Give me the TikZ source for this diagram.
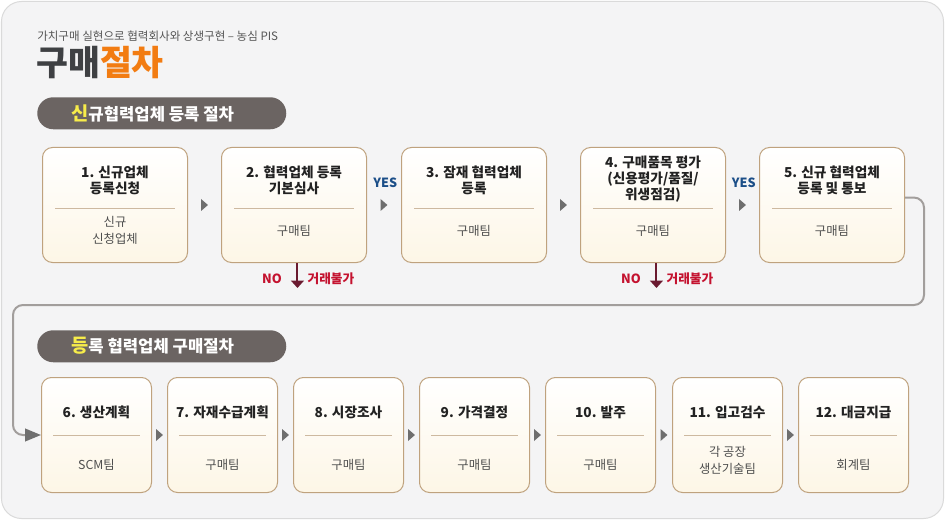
\documentclass[tikz,border=0pt]{standalone}
\usepackage{fontspec}
\setmainfont{Noto Sans CJK KR}
\usetikzlibrary{arrows.meta,calc}
\definecolor{bgfill}{HTML}{F4F4F5}
\definecolor{bgline}{HTML}{DADADA}
\definecolor{boxline}{HTML}{BFA27E}
\definecolor{boxbot}{HTML}{FDF6E6}
\definecolor{sepline}{HTML}{CDB9A0}
\definecolor{titlecol}{HTML}{222222}
\definecolor{subcol}{HTML}{4E4E4E}
\definecolor{hdrgray}{HTML}{555555}
\definecolor{ttldark}{HTML}{3E4043}
\definecolor{ttlorange}{HTML}{F27C12}
\definecolor{pillfill}{HTML}{6B6462}
\definecolor{pillyellow}{HTML}{F7EC4A}
\definecolor{trigray}{HTML}{6E6E6E}
\definecolor{yesblue}{HTML}{1B4E88}
\definecolor{nored}{HTML}{C4122F}
\definecolor{noarrow}{HTML}{6A1A30}
\definecolor{connline}{HTML}{A29E9C}
\definecolor{conntip}{HTML}{6F6F6F}
\begin{document}
\begin{tikzpicture}[x=0.75pt,y=-0.75pt,
  boxA/.style={draw=boxline, line width=0.75pt, rounded corners=7.5pt,
    top color=white, bottom color=boxbot, minimum width=108.75pt,
    minimum height=86.25pt, anchor=north west, inner sep=0pt},
  boxB/.style={boxA, minimum width=82.5pt},
  sepl/.style={draw=sepline, line width=0.75pt},
  ttl/.style={font=\bfseries\fontsize{10.25}{12}\selectfont, align=center, text=titlecol, inner sep=0pt},
  subt/.style={font=\fontsize{9.25}{12.75}\selectfont, align=center, text=subcol, inner sep=0pt},
  pill/.style={fill=pillfill, rounded corners=12pt, minimum width=186.75pt,
    minimum height=24pt, anchor=north west, inner sep=0pt},
  pilltext/.style={anchor=west, inner sep=0pt, text=white, font=\bfseries\fontsize{12.5}{14}\selectfont},
  yes/.style={font=\bfseries\fontsize{9.5}{11}\selectfont, text=yesblue, inner sep=0pt},
  nolbl/.style={font=\bfseries\fontsize{9.5}{11}\selectfont, text=nored, inner sep=0pt},
  noarr/.style={draw=noarrow, line width=1.5pt, -{Triangle[length=5.5pt,width=9.5pt]}},
  conn/.style={draw=connline, line width=1.5pt, rounded corners=7.5pt,
    -{Triangle[length=12pt,width=9.5pt,color=conntip]}},
  trif/.style={fill=trigray}
]
\useasboundingbox (0,0) rectangle (945,520);
\draw[fill=bgfill, draw=bgline, line width=0.75pt, rounded corners=15pt] (1.5,1.5) rectangle (943.5,518.5);

% header
\node[anchor=west, inner sep=0pt, font=\fontsize{8.65}{10}\selectfont, text=hdrgray] (hdr) at (37,36) {가치구매 실현으로 협력회사와 상생구현 – 농심 PIS};
\node[anchor=west, inner sep=0pt, font=\bfseries\fontsize{26}{28}\selectfont] (maintitle) at (36,63) {\textcolor{ttldark}{구매}\textcolor{ttlorange}{절차}};

% pill 1
\node[pill] (p1) at (37,97) {};
\node[pilltext] (p1t) at (71,113) {\textcolor{pillyellow}{\fontsize{14}{14}\selectfont 신}규협력업체 등록 절차};

% row 1 boxes
\node[boxA] (b1) at (42,147) {};
\node[boxA] (b2) at (221,147) {};
\node[boxA] (b3) at (401,147) {};
\node[boxA] (b4) at (580,147) {};
\node[boxA] (b5) at (759,147) {};
\foreach \b in {b1,b2,b3,b4,b5}{
  \draw[sepl] ([xshift=9.75pt]\b.west |- 0,209) -- ([xshift=-9.75pt]\b.east |- 0,209);
}
\node[ttl] (t1) at (b1.north |- 0,180) {1. 신규업체\\등록신청};
\node[ttl] (t2) at (b2.north |- 0,180) {2. 협력업체 등록\\기본심사};
\node[ttl] (t3) at (b3.north |- 0,180) {3. 잠재 협력업체\\등록};
\node[ttl] (t4) at (b4.north |- 0,179) {4. 구매품목 평가\\(신용평가/품질/\\위생점검)};
\node[ttl] (t5) at (b5.north |- 0,180) {5. 신규 협력업체\\등록 및 통보};
\node[subt] (s1) at (b1.north |- 0,230.5) {신규\\신청업체};
\node[subt] (s2) at (b2.north |- 0,231) {구매팀};
\node[subt] (s3) at (b3.north |- 0,231) {구매팀};
\node[subt] (s4) at (b4.north |- 0,231) {구매팀};
\node[subt] (s5) at (b5.north |- 0,231) {구매팀};

% row 1 triangles
\foreach \a/\b in {b1/b2,b2/b3,b3/b4,b4/b5}{
  \coordinate (m) at ($(\a.east)!0.5!(\b.west)$);
  \fill[trif] ([xshift=-2.6pt,yshift=4.5pt]m) -- ([xshift=2.6pt]m) -- ([xshift=-2.6pt,yshift=-4.5pt]m) -- cycle;
}
\coordinate (m23) at ($(b2.east)!0.5!(b3.west)$);
\coordinate (m45) at ($(b4.east)!0.5!(b5.west)$);
\node[yes] (y23) at ([xshift=1pt]m23 |- 0,183) {YES};
\node[yes] (y45) at ([xshift=1pt]m45 |- 0,183) {YES};

% NO arrows
\draw[noarr] ([xshift=2.6pt]b2.south) -- ++(0,25) coordinate (n2);
\node[nolbl, anchor=east] (no2) at ([xshift=-9pt]b2.south |- 0,279) {NO};
\node[nolbl, anchor=west] (nx2) at ([xshift=10pt]b2.south |- 0,279) {거래불가};
\draw[noarr] ([xshift=2.6pt]b4.south) -- ++(0,25) coordinate (n4);
\node[nolbl, anchor=east] (no4) at ([xshift=-9pt]b4.south |- 0,279) {NO};
\node[nolbl, anchor=west] (nx4) at ([xshift=10pt]b4.south |- 0,279) {거래불가};

% pill 2
\node[pill] (p2) at (37,330) {};
\node[pilltext] (p2t) at (71,346) {\textcolor{pillyellow}{\fontsize{14}{14}\selectfont 등}록 협력업체 구매절차};

% row 2 boxes
\node[boxB] (b6) at (41,377) {};
\node[boxB] (b7) at (167,377) {};
\node[boxB] (b8) at (293,377) {};
\node[boxB] (b9) at (419,377) {};
\node[boxB] (b10) at (545,377) {};
\node[boxB] (b11) at (672,377) {};
\node[boxB] (b12) at (798,377) {};
\foreach \b in {b6,b7,b8,b9,b10,b11,b12}{
  \draw[sepl] ([xshift=9pt]\b.west |- 0,435) -- ([xshift=-9pt]\b.east |- 0,435);
}
\node[ttl] (t6) at (b6.north |- 0,412) {6. 생산계획};
\node[ttl] (t7) at (b7.north |- 0,412) {7. 자재수급계획};
\node[ttl] (t8) at (b8.north |- 0,412) {8. 시장조사};
\node[ttl] (t9) at (b9.north |- 0,412) {9. 가격결정};
\node[ttl] (t10) at (b10.north |- 0,412) {10. 발주};
\node[ttl] (t11) at (b11.north |- 0,412) {11. 입고검수};
\node[ttl] (t12) at (b12.north |- 0,412) {12. 대금지급};
\node[subt] (s6) at (b6.north |- 0,465) {SCM팀};
\node[subt] (s7) at (b7.north |- 0,465) {구매팀};
\node[subt] (s8) at (b8.north |- 0,465) {구매팀};
\node[subt] (s9) at (b9.north |- 0,465) {구매팀};
\node[subt] (s10) at (b10.north |- 0,465) {구매팀};
\node[subt] (s11) at (b11.north |- 0,460) {각 공장\\생산기술팀};
\node[subt] (s12) at (b12.north |- 0,465) {회계팀};

\foreach \a/\b in {b6/b7,b7/b8,b8/b9,b9/b10,b10/b11,b11/b12}{
  \coordinate (m) at ($(\a.east)!0.5!(\b.west)$);
  \fill[trif] ([xshift=-2.6pt,yshift=4.5pt]m) -- ([xshift=2.6pt]m) -- ([xshift=-2.6pt,yshift=-4.5pt]m) -- cycle;
}

% connector from row 1 to row 2
\draw[conn] ([yshift=5.6pt]b5.east) -| (924,305) -- (13,305) |- (b6.west);
\end{tikzpicture}
\end{document}
